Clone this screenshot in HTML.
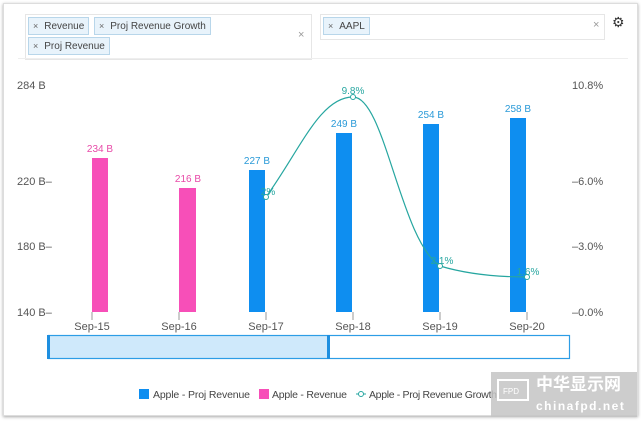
<!DOCTYPE html>
<html><head><style>
body{margin:0;width:641px;height:421px;background:#fff;font-family:"Liberation Sans","Noto Sans CJK SC",sans-serif;overflow:hidden;position:relative}
.frame{position:absolute;left:3px;top:3px;width:633px;height:411px;border:1px solid #ddd;box-shadow:0 1px 3px rgba(0,0,0,.35)}
.box{position:absolute;border:1px solid #e6e6e6;background:#fff}
.tag{position:absolute;height:16px;border:1px solid #b8d6ea;background:#e8f3fb;font-size:10px;color:#444;line-height:16px;padding:0 4px 0 4px;white-space:nowrap}
.tag b{font-weight:normal;color:#666;margin-right:6px;font-size:9px}
.t{position:absolute;font-size:11px;color:#555;white-space:nowrap}
</style></head><body>
<div class="frame"></div>
<div class="box" style="left:25px;top:14px;width:285px;height:44px"></div>
<div class="tag" style="left:28px;top:17px"><b>×</b>Revenue</div>
<div class="tag" style="left:94px;top:17px"><b>×</b>Proj Revenue Growth</div>
<div class="tag" style="left:28px;top:37px"><b>×</b>Proj Revenue</div>
<div class="t" style="left:298px;top:29px;color:#999">×</div>
<div class="box" style="left:320px;top:14px;width:283px;height:24px"></div>
<div class="tag" style="left:323px;top:17px"><b>×</b>AAPL</div>
<div class="t" style="left:593px;top:19px;color:#999">×</div>
<div class="t" style="left:612px;top:14px;font-size:14px;color:#333">⚙</div>
<div style="position:absolute;left:18px;top:58px;width:610px;height:1px;background:#eee"></div>
<svg width="641" height="421" style="position:absolute;left:0;top:0" font-family="Liberation Sans, sans-serif" font-size="11">
<g fill="#555">
<text x="17" y="89">284 B</text><text x="17" y="185">220 B–</text><text x="17" y="250">180 B–</text><text x="17" y="316">140 B–</text>
<text x="572" y="89">10.8%</text><text x="572" y="185">–6.0%</text><text x="572" y="250">–3.0%</text><text x="572" y="316">–0.0%</text>
</g>
<g fill="#555" text-anchor="middle">
<text x="92" y="330">Sep-15</text><text x="179" y="330">Sep-16</text><text x="266" y="330">Sep-17</text><text x="353" y="330">Sep-18</text><text x="440" y="330">Sep-19</text><text x="527" y="330">Sep-20</text>
</g>
<g stroke="#999"><line x1="92" y1="312" x2="92" y2="320"/><line x1="179" y1="312" x2="179" y2="320"/><line x1="266" y1="312" x2="266" y2="320"/><line x1="353" y1="312" x2="353" y2="320"/><line x1="440" y1="312" x2="440" y2="320"/><line x1="527" y1="312" x2="527" y2="320"/></g>
<rect x="92" y="158" width="16" height="154" fill="#f74fb8"/>
<rect x="179" y="188" width="17" height="124" fill="#f74fb8"/>
<rect x="249" y="170" width="16" height="142" fill="#0e8ef0"/>
<rect x="336" y="133" width="16" height="179" fill="#0e8ef0"/>
<rect x="423" y="124" width="16" height="188" fill="#0e8ef0"/>
<rect x="510" y="118" width="16" height="194" fill="#0e8ef0"/>
<g text-anchor="middle" font-size="10">
<text x="100" y="152" fill="#e84aa8">234 B</text><text x="188" y="182" fill="#e84aa8">216 B</text>
<text x="257" y="164" fill="#2a9ad8">227 B</text><text x="344" y="127" fill="#2a9ad8">249 B</text><text x="431" y="118" fill="#2a9ad8">254 B</text><text x="518" y="112" fill="#2a9ad8">258 B</text>
</g>
<path d="M266 197 C300 150,320 97,353 97 C385 97,400 240,440 266 C470 275,500 277,527 277" fill="none" stroke="#26a6a0" stroke-width="1.2"/>
<g fill="#fff" stroke="#26a6a0"><circle cx="266" cy="197" r="2.5"/><circle cx="353" cy="97" r="2.5"/><circle cx="440" cy="266" r="2.5"/><circle cx="527" cy="277" r="2.5"/></g>
<g fill="#26a6a0" font-size="10" text-anchor="middle"><text x="268" y="195">2%</text><text x="353" y="94">9.8%</text><text x="442" y="264">2.1%</text><text x="528" y="275">1.6%</text></g>
<rect x="49" y="336" width="280" height="22" fill="#cfe9fb"/>
<rect x="48.5" y="335.5" width="521" height="23" fill="none" stroke="#2d9de6" stroke-width="1.2"/>
<rect x="47" y="335" width="3" height="24" fill="#1e8fe0"/><rect x="327" y="335" width="3" height="24" fill="#1e8fe0"/>
<rect x="139" y="389" width="10" height="10" fill="#0e8ef0"/><text x="153" y="398" fill="#444" font-size="10.5" textLength="97">Apple - Proj Revenue</text>
<rect x="259" y="389" width="10" height="10" fill="#f74fb8"/><text x="272" y="398" fill="#444" font-size="10.5" textLength="75">Apple - Revenue</text>
<line x1="356" y1="394" x2="366" y2="394" stroke="#26a6a0"/><circle cx="361" cy="394" r="2.5" fill="#fff" stroke="#26a6a0"/><text x="369" y="398" fill="#444" font-size="10.5" textLength="128">Apple - Proj Revenue Growth</text>
<rect x="491" y="372" width="146" height="45" fill="#c4c4c4" opacity="0.85"/>
<rect x="498" y="380" width="30" height="20" fill="none" stroke="#fff" stroke-width="2"/>
<text x="503" y="394" fill="#fff" font-size="8">FPD</text>
<text x="536" y="390" fill="#fff" font-size="17" font-family="Noto Sans CJK SC, sans-serif" font-weight="bold">中华显示网</text>
<text x="536" y="410" fill="#fff" font-size="12" font-weight="bold" letter-spacing="1.5">chinafpd.net</text>
</svg>
</body></html>
